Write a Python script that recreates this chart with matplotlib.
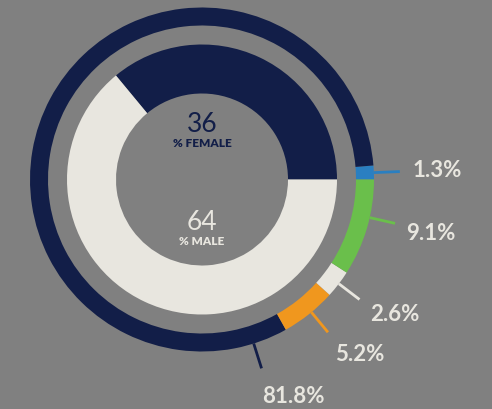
import numpy as np
import matplotlib.pyplot as plt

# outer ring: share by segment (counter-clockwise from 3 o'clock)
seg_labels = ['1.3%', '81.8%', '5.2%', '2.6%', '9.1%']
seg_values = [1.3, 81.8, 5.2, 2.6, 9.1]
seg_colors = ['#2a7fc1', '#121e48', '#f0971e', '#e8e6df', '#6abf4b']

# inner ring: gender split
gender = ['% FEMALE', '% MALE']
gender_values = [36, 64]
gender_colors = ['#121e48', '#e8e6df']

# where the leader lines and their labels sit (degrees)
line_angles = [2.3, -72.5, -50.5, -37.3, -12.8]
text_angles = [2.5, -67.1, -47.7, -34.9, -13.1]

bg = '#808080'
light = '#e8e6df'
navy = '#121e48'

fig = plt.figure(figsize=(4.92, 4.10), dpi=100, facecolor=bg)
ax = fig.add_axes([0, 0, 1, 1])
ax.set_facecolor(bg)
ax.axis('off')

ax.pie(seg_values, colors=seg_colors, startangle=0, counterclock=True,
       radius=1.0, wedgeprops=dict(width=18 / 172, linewidth=0))
ax.pie(gender_values, colors=gender_colors, startangle=0, counterclock=True,
       radius=135 / 172, wedgeprops=dict(width=49 / 172, linewidth=0))
ax.set_xlim(-202 / 172, 290 / 172)
ax.set_ylim(-229.5 / 172, 180.5 / 172)
ax.set_aspect('auto')

for lab, la, ta, col in zip(seg_labels, line_angles, text_angles, seg_colors):
    a = np.deg2rad(la)
    r0, r1 = 1.0, 198 / 172
    ax.plot([r0 * np.cos(a), r1 * np.cos(a)], [r0 * np.sin(a), r1 * np.sin(a)],
            color=col, lw=2, solid_capstyle='butt')
    t = np.deg2rad(ta)
    rt = 235 / 172
    ax.text(rt * np.cos(t), rt * np.sin(t), lab, ha='center', va='center',
            fontsize=16, fontfamily='Lato', fontweight='bold', color=light)

ax.text(0, 56 / 172, str(gender_values[0]), ha='center', va='center',
        fontsize=19, fontfamily='Lato', fontweight='normal', color=navy)
ax.text(0, 36.5 / 172, gender[0], ha='center', va='center',
        fontsize=8.5, fontfamily='Lato', fontweight='heavy', color=navy)
ax.text(0, -42 / 172, str(gender_values[1]), ha='center', va='center',
        fontsize=19, fontfamily='Lato', fontweight='normal', color=light)
ax.text(0, -61.5 / 172, gender[1], ha='center', va='center',
        fontsize=8.5, fontfamily='Lato', fontweight='heavy', color=light)

fig.savefig('out.png', dpi=100, facecolor=bg)
